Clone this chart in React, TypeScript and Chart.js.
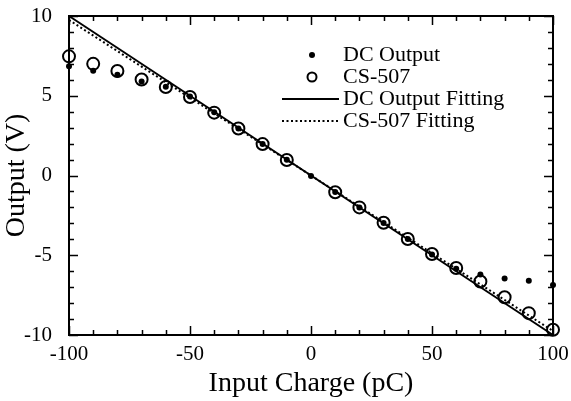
import React, { useEffect, useRef } from "react";
import { Chart, registerables } from "chart.js";
Chart.register(...registerables);

const FONT = "'Liberation Serif', 'Times New Roman', serif";

const xValues = [-100, -90, -80, -70, -60, -50, -40, -30, -20, -10, 0, 10, 20, 30, 40, 50, 60, 70, 80, 90, 100];
const dcOutput = [6.85, 6.57, 6.32, 5.9, 5.56, 4.95, 3.96, 2.95, 1.97, 0.98, -0.03, -1.03, -2.0, -2.98, -3.98, -4.95, -5.85, -6.2, -6.45, -6.6, -6.87];
const cs507 = [7.47, 7.0, 6.55, 6.02, 5.55, 4.92, 3.94, 2.95, 1.97, 0.97, null, -1.05, -2.0, -2.96, -3.98, -4.92, -5.8, -6.65, -7.63, -8.63, -9.67];
const fitX = [-100, 100];
const dcFitY = [10.0, -10.0];
const csFitY = [9.75, -9.75];

const xMajor = [-100, -50, 0, 50, 100];
const yMajor = [-10, -5, 0, 5, 10];

function zeroPad(scale: any) {
  scale.paddingTop = 0;
  scale.paddingBottom = 0;
  scale.paddingLeft = 0;
  scale.paddingRight = 0;
}

export default function App() {
  const ref = useRef<HTMLCanvasElement>(null);
  useEffect(() => {
    if (!ref.current) return;

    const framePlugin = {
      id: "frame",
      beforeDatasetsDraw(chart: any) {
        const { ctx, chartArea: a, scales } = chart;
        ctx.save();
        ctx.strokeStyle = "#000";
        ctx.lineWidth = 2;
        ctx.strokeRect(a.left, a.top, a.right - a.left, a.bottom - a.top);
        ctx.lineWidth = 1.5;
        const xs = scales.x;
        for (let v = -100; v <= 100; v += 10) {
          const px = Math.round(xs.getPixelForValue(v)) + 0.5;
          const len = xMajor.includes(v) ? 9 : 5;
          ctx.beginPath();
          ctx.moveTo(px, a.bottom);
          ctx.lineTo(px, a.bottom - len);
          ctx.moveTo(px, a.top);
          ctx.lineTo(px, a.top + len);
          ctx.stroke();
        }
        const ys = scales.y;
        for (let v = -10; v <= 10; v += 1) {
          const py = Math.round(ys.getPixelForValue(v)) + 0.5;
          const len = yMajor.includes(v) ? 9 : 5;
          ctx.beginPath();
          ctx.moveTo(a.left, py);
          ctx.lineTo(a.left + len, py);
          ctx.moveTo(a.right, py);
          ctx.lineTo(a.right - len, py);
          ctx.stroke();
        }
        ctx.restore();
      },
    };

    const legendPlugin = {
      id: "customLegend",
      afterDraw(chart: any) {
        const { ctx } = chart;
        const ds = chart.data.datasets;
        const symX = 312;
        const lineL = 282;
        const lineR = 339;
        const textX = 343;
        const rows = [55, 77, 99, 121];
        ctx.save();
        ctx.font = `22px ${FONT}`;
        ctx.fillStyle = "#000";
        ctx.textBaseline = "middle";
        ctx.textAlign = "left";
        const order = [1, 0, 3, 2];
        order.forEach((di, i) => {
          const d = ds[di];
          const y = rows[i];
          ctx.strokeStyle = "#000";
          if (d.showLine) {
            ctx.lineWidth = d.borderWidth;
            ctx.setLineDash(d.borderDash || []);
            ctx.beginPath();
            ctx.moveTo(lineL, y);
            ctx.lineTo(lineR, y);
            ctx.stroke();
            ctx.setLineDash([]);
          } else if (d.backgroundColor === "#000") {
            ctx.beginPath();
            ctx.arc(symX, y, 3, 0, Math.PI * 2);
            ctx.fill();
          } else {
            ctx.lineWidth = 2;
            ctx.beginPath();
            ctx.arc(symX, y, 4.5, 0, Math.PI * 2);
            ctx.stroke();
          }
          ctx.fillText(d.label, textX, y);
        });
        ctx.restore();
      },
    };

    const chart = new Chart(ref.current, {
      type: "scatter",
      data: {
        datasets: [
          {
            label: "CS-507",
            data: xValues.map((x, i) => ({ x, y: cs507[i] })),
            pointRadius: 6,
            pointBorderWidth: 2,
            borderColor: "#000",
            backgroundColor: "rgba(0,0,0,0)",
            showLine: false,
            clip: false,
            order: 2,
          },
          {
            label: "DC Output",
            data: xValues.map((x, i) => ({ x, y: dcOutput[i] })),
            pointRadius: 3,
            pointBorderWidth: 0,
            borderColor: "#000",
            backgroundColor: "#000",
            showLine: false,
            clip: false,
            order: 1,
          },
          {
            label: "CS-507 Fitting",
            data: fitX.map((x, i) => ({ x, y: csFitY[i] })),
            showLine: true,
            borderColor: "#000",
            borderWidth: 2,
            borderDash: [2, 2.5],
            pointRadius: 0,
            clip: false,
            order: 4,
          },
          {
            label: "DC Output Fitting",
            data: fitX.map((x, i) => ({ x, y: dcFitY[i] })),
            showLine: true,
            borderColor: "#000",
            borderWidth: 2,
            pointRadius: 0,
            clip: false,
            order: 3,
          },
        ],
      },
      options: {
        animation: false,
        responsive: false,
        devicePixelRatio: 1,
        layout: { padding: { top: 16, right: 18, left: 0, bottom: 0 } },
        plugins: { legend: { display: false }, tooltip: { enabled: false } },
        scales: {
          x: {
            type: "linear",
            min: -100,
            max: 100,
            afterFit(scale: any) {
              scale.height = 66;
              zeroPad(scale);
            },
            grid: { display: false, drawTicks: false },
            border: { display: false },
            ticks: {
              stepSize: 50,
              padding: 7,
              color: "#000",
              font: { family: FONT, size: 21 },
              maxRotation: 0,
            },
            title: {
              display: true,
              text: "Input Charge (pC)",
              color: "#000",
              font: { family: FONT, size: 28, lineHeight: 1.2 },
              padding: { top: 0, bottom: 1 },
            },
          },
          y: {
            type: "linear",
            min: -10,
            max: 10,
            afterFit(scale: any) {
              scale.width = 69;
              zeroPad(scale);
            },
            grid: { display: false, drawTicks: false },
            border: { display: false },
            ticks: {
              stepSize: 5,
              padding: 17,
              color: "#000",
              font: { family: FONT, size: 21 },
            },
            title: {
              display: true,
              text: "Output (V)",
              color: "#000",
              font: { family: FONT, size: 28, lineHeight: 1.2 },
              padding: { top: 0, bottom: 0 },
            },
          },
        },
      },
      plugins: [framePlugin, legendPlugin],
    });
    return () => chart.destroy();
  }, []);

  return (
    <div style={{ position: "absolute", left: 0, top: 0, width: 571, height: 401, background: "#fff" }}>
      <canvas ref={ref} width={571} height={401} style={{ display: "block" }} />
    </div>
  );
}
